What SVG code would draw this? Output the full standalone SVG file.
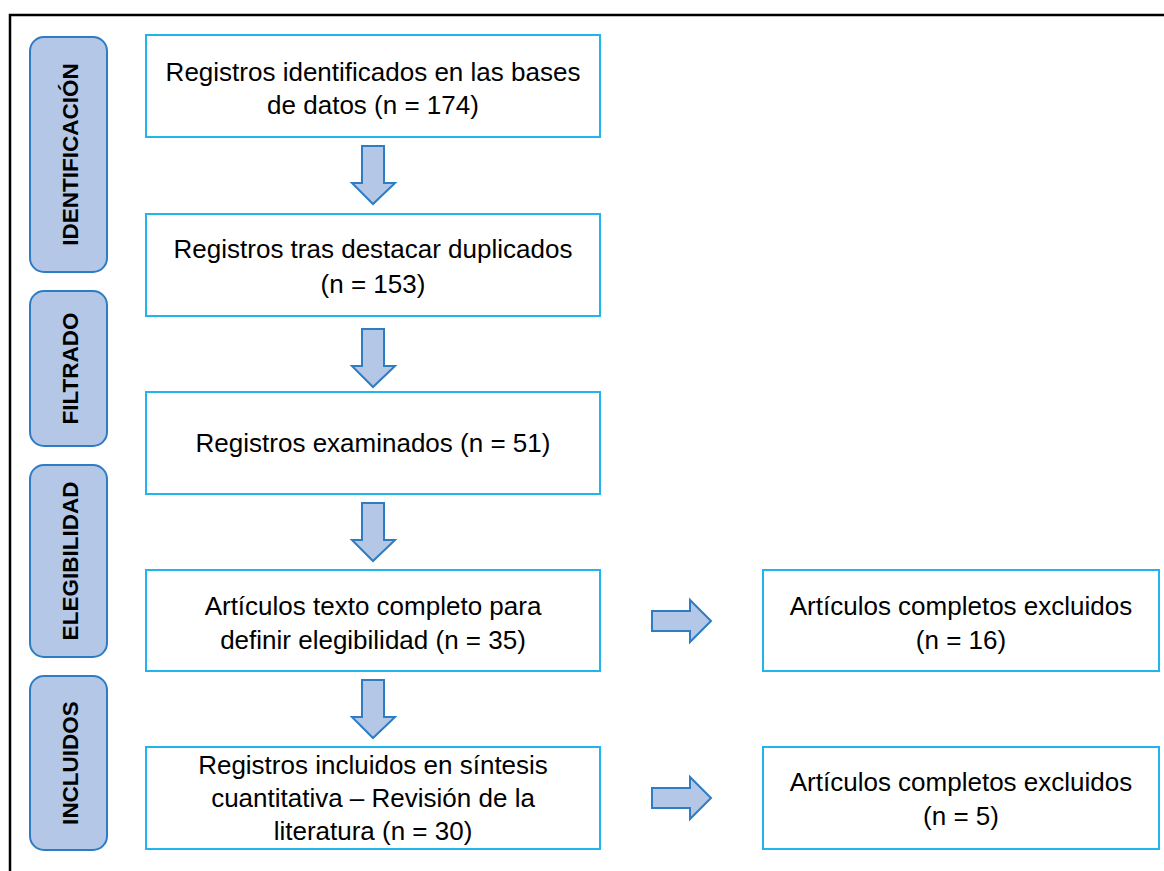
<svg xmlns="http://www.w3.org/2000/svg" width="1164" height="871" viewBox="0 0 1164 871">
<defs>
<style>
.frame{fill:none;stroke:#000;stroke-width:2.5}
.box{fill:#fff;stroke:#21B5EE;stroke-width:2}
.side{fill:#B4C7E7;stroke:#2E7CC4;stroke-width:2}
.arr{fill:#B4C7E7;stroke:#2E7CC4;stroke-width:2;stroke-linejoin:miter}
.t{font-family:"Liberation Sans",Arial,sans-serif;font-size:26px;fill:#000;text-anchor:middle}
.s{font-family:"Liberation Sans",Arial,sans-serif;font-size:22.5px;font-weight:bold;fill:#000;text-anchor:middle}
</style>
</defs>
<rect width="1164" height="871" fill="#fff"/>
<path class="frame" d="M10,880 V15 H1170"/>
<g id="side-identificacion"><rect class="side" x="30" y="37" width="77" height="235" rx="14"/><text class="s" transform="translate(78,154.5) rotate(-90)">IDENTIFICACIÓN</text></g>
<g id="side-filtrado"><rect class="side" x="30" y="291" width="77" height="155" rx="14"/><text class="s" transform="translate(78,368.5) rotate(-90)">FILTRADO</text></g>
<g id="side-elegibilidad"><rect class="side" x="30" y="465" width="77" height="192" rx="14"/><text class="s" transform="translate(78,561) rotate(-90)">ELEGIBILIDAD</text></g>
<g id="side-incluidos"><rect class="side" x="30" y="676" width="77" height="174" rx="14"/><text class="s" transform="translate(78,763) rotate(-90)">INCLUIDOS</text></g>
<g id="n1"><rect class="box" x="146" y="35" width="454" height="102"/><text class="t" x="373" y="81">Registros identificados en las bases</text><text class="t" x="373" y="114">de datos (n = 174)</text></g>
<g id="n2"><rect class="box" x="146" y="214" width="454" height="102"/><text class="t" x="373" y="258">Registros tras destacar duplicados</text><text class="t" x="373" y="293">(n = 153)</text></g>
<g id="n3"><rect class="box" x="146" y="392" width="454" height="102"/><text class="t" x="373" y="452">Registros examinados (n = 51)</text></g>
<g id="n4"><rect class="box" x="146" y="570" width="454" height="101"/><text class="t" x="373" y="615">Artículos texto completo para</text><text class="t" x="373" y="649">definir elegibilidad (n = 35)</text></g>
<g id="n5"><rect class="box" x="146" y="747" width="454" height="102"/><text class="t" x="373" y="774">Registros incluidos en síntesis</text><text class="t" x="373" y="807">cuantitativa – Revisión de la</text><text class="t" x="373" y="840">literatura (n = 30)</text></g>
<g id="n6"><rect class="box" x="763" y="570" width="396" height="101"/><text class="t" x="961" y="615">Artículos completos excluidos</text><text class="t" x="961" y="649">(n = 16)</text></g>
<g id="n7"><rect class="box" x="763" y="747" width="396" height="102"/><text class="t" x="961" y="791">Artículos completos excluidos</text><text class="t" x="961" y="825">(n = 5)</text></g>
<g id="connectors">
<path class="arr" d="M362,146 H384 V183 H395 L373,204 L352,183 H362 Z"/>
<path class="arr" d="M362,329 H384 V366 H395 L373,387 L352,366 H362 Z"/>
<path class="arr" d="M362,503 H384 V540 H395 L373,561 L352,540 H362 Z"/>
<path class="arr" d="M362,680 H384 V717 H395 L373,738 L352,717 H362 Z"/>
<path class="arr" d="M652,611 H690 V600 L711,621 L690,642 V631 H652 Z"/>
<path class="arr" d="M652,788 H690 V777 L711,798 L690,819 V808 H652 Z"/>
</g>
</svg>
